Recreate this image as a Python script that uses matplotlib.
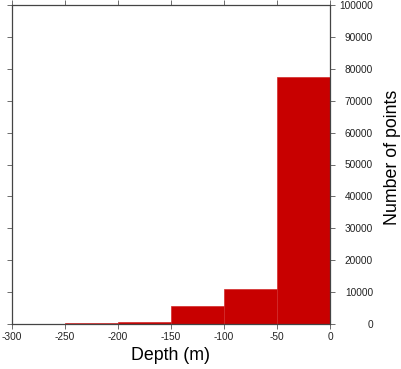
import matplotlib
matplotlib.use("Agg")
import matplotlib.pyplot as plt
import numpy as np

bin_left = [-300, -250, -200, -150, -100, -50]
bin_width = 50
counts = [0, 450, 750, 5500, 11000, 77400]
xticks = [-300, -250, -200, -150, -100, -50, 0]
yticks = list(range(0, 100001, 10000))

plt.rcParams['font.family'] = ['Liberation Sans', 'DejaVu Sans']

fig = plt.figure(figsize=(4.02, 3.69), dpi=100)
ax = fig.add_axes([12/402, 1-324/369, (330-12)/402, (324-5)/369])

ax.bar(bin_left, counts, width=bin_width, align='edge', color='#c80000',
       edgecolor='#d22a2a', linewidth=0.5)

ax.set_xlim(-300, 0)
ax.set_ylim(0, 100000)
ax.set_xticks(xticks)
ax.set_xticklabels([str(v) for v in xticks])
ax.set_yticks(yticks)
ax.set_yticklabels([str(v) for v in yticks])

ax.tick_params(axis='both', direction='out', length=3.5, width=0.6,
               color='#555555', labelsize=7.3, labelcolor='#222222')
ax.tick_params(axis='x', top=True, bottom=True, labeltop=False, labelbottom=True, pad=2)
ax.tick_params(axis='y', left=True, right=True, labelleft=False, labelright=True, pad=27.5)
for lab in ax.get_yticklabels():
    lab.set_horizontalalignment('right')

for s in ax.spines.values():
    s.set_linewidth(0.9)
    s.set_color('#444444')

ax.set_xlabel('Depth (m)', fontsize=12.8, labelpad=4)
ax.yaxis.set_label_position('right')
ax.set_ylabel('Number of points', fontsize=12.8)
ax.yaxis.label.set_verticalalignment('center')
ax.yaxis.label.set_horizontalalignment('center')
ax.yaxis.set_label_coords((393-12)/318, (324-157)/319)

fig.savefig('out.png', dpi=100)
